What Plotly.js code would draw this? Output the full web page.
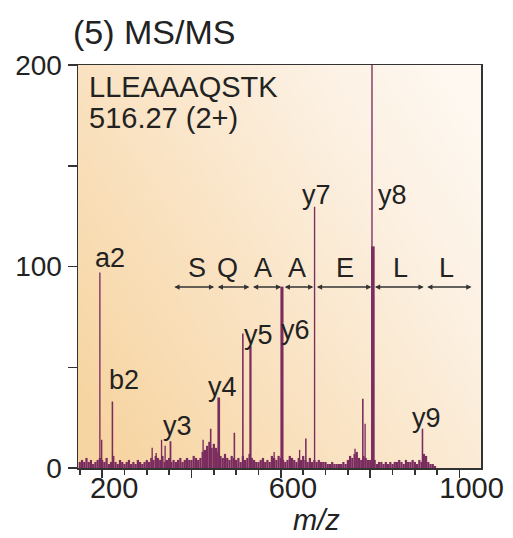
<!DOCTYPE html>
<html>
<head>
<meta charset="utf-8">
<script src="https://cdn.plot.ly/plotly-3.0.1.min.js"></script>
<style>html,body{margin:0;padding:0;background:#fff;}#chart{width:513px;height:538px;}</style>
</head>
<body>
<div id="chart"></div>
<script>
// Baseline noise (m/z every 5 units from 150)
const noiseStart = 150;
const noiseStep = 5;
const noiseValues = [
  3,4,3,5,3,4,2,3,4,5,
  4,3,5,2,3,6,3,2,4,3,
  2,3,4,2,3,2,4,3,2,3,
  4,3,5,4,6,5,4,6,3,4,
  5,3,4,3,4,5,3,4,5,4,
  4,6,5,4,5,8,9,11,13,10,
  12,10,8,6,5,7,5,4,6,5,
  4,5,3,6,4,5,7,5,4,3,
  3,4,5,3,4,3,6,5,4,6,
  5,4,3,4,6,5,4,3,5,4,
  6,4,3,5,3,4,3,4,3,3,
  3,2,2,3,2,2,2,2,3,2,
  4,6,5,7,8,5,4,6,5,4,
  4,3,4,2,3,3,2,3,2,3,
  2,3,3,4,3,2,4,3,3,4,
  3,2,4,3,7,6,3,2,2,1
];
const noiseMz = noiseValues.map((v, i) => noiseStart + i * noiseStep);

// Distinct peaks
const peakMz     = [195, 199, 223, 312, 321, 333, 341, 353, 426, 443, 461, 496, 515, 532, 585, 602.5, 621, 642, 656, 675.5, 766, 783.5, 788.6, 804, 806, 917, 920.5];
const peakHeight = [97,  14,  33,  10,  7.4, 14,  11,  13.3, 14, 19.5, 35, 17.5, 66.7, 60.4, 8,  90,   5.5, 9,   14.6, 129.6, 9.5, 34.4, 22,   200, 110, 19.5, 7];
const peakWidth  = [3,   3,   3.5, 3,   3,   3,   3,   4,   3,   3.5, 6,   3.5, 3.5, 5,   3,   7,    3,   3,   3.5,  3,    3,   3.5,  3,    3,   8,   3.5,  3];

// Fragment ion labels
const ionLabels = ['a2','b2','y3','y4','y5','y6','y7','y8','y9'];
const ionLabelMz = [217.6, 249, 368.7, 470.5, 551, 631.7, 680.2, 848.8, 924.9];
const ionLabelY  = [104.1, 43.5, 20.6, 40, 65.8, 68.3, 135.4, 135.4, 24.6];

// Sequence ladder
const seqBounds = [356, 453, 532, 603, 675, 805, 922, 1029];
const seqLetters = ['S','Q','A','A','E','L','L'];
const seqLetterMz = [411.7, 481.7, 560, 635.5, 743.6, 866.7, 971.2];
const seqArrowY = 89.8;
const seqLetterY = 99.1;

// Axis ticks
const xRange = [146, 1048];
const xTickVals = [200, 400, 600, 800, 1000];
const xTickText = ['200', '', '600', '', '1000'];
const yTickVals = [0, 100, 200];
const yTickText = ['0', '100', '200'];

const FONT = 'Liberation Sans, Arial, Helvetica, sans-serif';
const BAR = '#7a2c5f';
const TXT = '#222222';

// Gradient background
function gradientURL() {
  const c = document.createElement('canvas');
  c.width = 400; c.height = 400;
  const g = c.getContext('2d');
  const lg = g.createLinearGradient(0, 330, 400, 70);
  lg.addColorStop(0, '#f7d5a2');
  lg.addColorStop(0.4, '#fae3c3');
  lg.addColorStop(0.75, '#fcf0e1');
  lg.addColorStop(1, '#fef8f0');
  g.fillStyle = lg;
  g.fillRect(0, 0, 400, 400);
  return c.toDataURL('image/png');
}

// label axis shifted ~12 px right of the tick axis (as in the reference)
const labelShiftUnits = 12 / (403 / (xRange[1] - xRange[0]));

const traces = [
  {type: 'bar', x: noiseMz, y: noiseValues, width: noiseStep,
   marker: {color: BAR, line: {width: 0}}, hoverinfo: 'skip'},
  {type: 'bar', x: peakMz, y: peakHeight, width: peakWidth,
   marker: {color: BAR, line: {width: 0}}, hoverinfo: 'skip'},
  {type: 'scatter', mode: 'markers', x: [600], y: [null], xaxis: 'x2', yaxis: 'y',
   hoverinfo: 'skip', showlegend: false}
];

const annotations = [];
ionLabels.forEach((t, i) => annotations.push({
  x: ionLabelMz[i], y: ionLabelY[i], xref: 'x', yref: 'y', text: t, showarrow: false,
  font: {family: FONT, size: 27, color: TXT}, xanchor: 'center', yanchor: 'middle'
}));
seqLetters.forEach((t, i) => annotations.push({
  x: seqLetterMz[i], y: seqLetterY, xref: 'x', yref: 'y', text: t, showarrow: false,
  font: {family: FONT, size: 27, color: TXT}, xanchor: 'center', yanchor: 'middle'
}));
for (let i = 0; i < seqBounds.length - 1; i++) {
  annotations.push({
    x: seqBounds[i + 1], y: seqArrowY, ax: seqBounds[i], ay: seqArrowY,
    xref: 'x', yref: 'y', axref: 'x', ayref: 'y', text: '', showarrow: true,
    arrowside: 'end+start', arrowhead: 2, arrowsize: 0.7, arrowwidth: 1.5,
    arrowcolor: '#333', standoff: 1, startstandoff: 1
  });
}
annotations.push({
  xref: 'paper', yref: 'paper', x: 0.022, y: 0.945, xanchor: 'left', yanchor: 'middle',
  text: 'LLEAAAQSTK', showarrow: false, font: {family: FONT, size: 29, color: TXT}
});
annotations.push({
  xref: 'paper', yref: 'paper', x: 0.022, y: 0.8685, xanchor: 'left', yanchor: 'middle',
  text: '516.27 (2+)', showarrow: false, font: {family: FONT, size: 29, color: TXT}
});
annotations.push({
  xref: 'paper', yref: 'paper', x: 0.593, y: -0.13, xanchor: 'center', yanchor: 'middle',
  text: '<i>m/z</i>', showarrow: false, font: {family: FONT, size: 29, color: TXT}
});

const layout = {
  width: 513, height: 538,
  margin: {l: 78, r: 32, t: 65, b: 70},
  paper_bgcolor: '#ffffff',
  plot_bgcolor: 'rgba(0,0,0,0)',
  showlegend: false,
  barmode: 'overlay',
  title: {text: '(5) MS/MS', x: 73 / 513, xanchor: 'left', xref: 'container',
          y: 1 - 32 / 538, yanchor: 'middle', yref: 'container',
          font: {family: FONT, size: 34, color: TXT}},
  xaxis: {
    range: xRange, showgrid: false, zeroline: false,
    showline: true, mirror: true, linecolor: '#333', linewidth: 1.5,
    ticks: 'outside', ticklen: 8, tickwidth: 1.5, tickcolor: '#333',
    tickmode: 'array', tickvals: xTickVals, showticklabels: false,
    minor: {tickmode: 'linear', tick0: 0, dtick: 50, ticks: 'outside', ticklen: 5, tickwidth: 1.5, tickcolor: '#333', showgrid: false}
  },
  xaxis2: {
    overlaying: 'x', side: 'bottom', anchor: 'y',
    range: [xRange[0] - labelShiftUnits, xRange[1] - labelShiftUnits],
    showgrid: false, zeroline: false, showline: false,
    ticks: '', ticklen: 0,
    tickmode: 'array', tickvals: xTickVals, ticktext: xTickText,
    tickfont: {family: FONT, size: 29, color: TXT}
  },
  yaxis: {
    range: [0, 200], showgrid: false, zeroline: false,
    showline: true, mirror: true, linecolor: '#333', linewidth: 1.5,
    ticks: 'outside', ticklen: 9, tickwidth: 1.5, tickcolor: '#333',
    tickmode: 'array', tickvals: yTickVals, ticktext: yTickText,
    tickfont: {family: FONT, size: 28, color: TXT},
    minor: {tickmode: 'linear', tick0: 0, dtick: 50, ticks: 'outside', ticklen: 9, tickwidth: 1.5, tickcolor: '#333', showgrid: false}
  },
  images: [{source: gradientURL(), xref: 'paper', yref: 'paper', x: 0, y: 1, sizex: 1, sizey: 1,
            sizing: 'stretch', layer: 'below', xanchor: 'left', yanchor: 'top'}],
  annotations: annotations
};

Plotly.newPlot('chart', traces, layout, {displayModeBar: false, staticPlot: true});
</script>
</body>
</html>
